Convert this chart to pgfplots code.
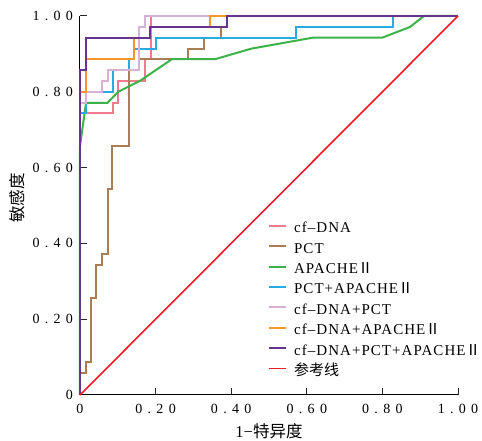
\documentclass[border=0pt]{standalone}
\usepackage{fontspec}
\setmainfont{Liberation Serif}
\newfontfamily\cjk{Noto Sans CJK SC}
\newfontfamily\tickfont{Liberation Serif}[LetterSpace=38]
\newfontfamily\legfont{Liberation Serif}[LetterSpace=7]
\usepackage{pgfplots}
\pgfplotsset{compat=1.18}

\definecolor{cpink}{RGB}{242,122,140}
\definecolor{cbrown}{RGB}{170,125,85}
\definecolor{cgreen}{RGB}{60,178,72}
\definecolor{ccyan}{RGB}{40,170,226}
\definecolor{clav}{RGB}{216,176,212}
\definecolor{corange}{RGB}{246,150,42}
\definecolor{cpurple}{RGB}{102,52,140}
\definecolor{cred}{RGB}{236,28,36}

\newcommand\rii{{\cjk Ⅱ}}

\begin{document}
\begin{tikzpicture}
\begin{axis}[
    scale only axis,
    width=378pt, height=379pt,
    xmin=0, xmax=1, ymin=0, ymax=1,
    axis x line*=bottom, axis y line*=left,
    axis line style={line width=1pt, black},
    tick align=inside,
    major tick length=7pt,
    tick style={line width=1pt, black!85},
    xtick={0,0.2,0.4,0.6,0.8,1},
    ytick={0,0.2,0.4,0.6,0.8,1},
    xticklabels={0,0.20,0.40,0.60,0.80,1.00},
    yticklabels={0,0.20,0.40,0.60,0.80,1.00},
    ticklabel style={font=\fontsize{14}{16}\tickfont},
    xticklabel style={yshift=-6pt},
    yticklabel style={xshift=-3.5pt},
    xlabel={1−{\cjk 特异度}},
    ylabel={{\cjk 敏感度}},
    label style={font=\fontsize{16.5}{18}\selectfont},
    xlabel style={at={(axis description cs:0.5,-0.095)}, anchor=center},
    ylabel style={at={(axis description cs:-0.167,0.52)}, anchor=center},
    clip=false,
    legend style={draw=none, fill=none, at={(axis cs:0.497,0.455)}, anchor=north west,
        font=\fontsize{15}{17}\legfont, row sep=7.4pt, column sep=7pt, inner sep=0pt,
        nodes={inner sep=0pt, text height=10pt, text depth=3pt}},
    legend cell align=left,
    legend image code/.code={\draw[#1] (0pt,3.5pt) -- (17pt,3.5pt);},
    every axis plot/.append style={line width=2pt},
]
\coordinate (bl) at (rel axis cs:0,0);
\coordinate (tr) at (rel axis cs:1,1);

% cf-DNA
\addplot[cpink] coordinates {
    (0,0) (0,0.743) (0.086,0.743) (0.086,0.771) (0.101,0.771) (0.101,0.829)
    (0.172,0.829) (0.172,0.886) (0.187,0.886) (0.187,1) (1,1)
};
\addlegendentry{cf–DNA}

% PCT
\addplot[cbrown] coordinates {
    (0,0) (0,0.057) (0.016,0.057) (0.016,0.086) (0.029,0.086) (0.029,0.257)
    (0.042,0.257) (0.042,0.343) (0.058,0.343) (0.058,0.371) (0.073,0.371)
    (0.073,0.543) (0.085,0.543) (0.085,0.657) (0.130,0.657) (0.130,0.857)
    (0.156,0.857) (0.156,0.886) (0.287,0.886) (0.287,0.914) (0.329,0.914)
    (0.329,0.943) (0.372,0.943) (0.372,0.971) (0.388,0.971) (0.388,1) (1,1)
};
\addlegendentry{PCT}

% APACHE II
\addplot[cgreen] coordinates {
    (0,0) (0,0.657) (0.016,0.771) (0.073,0.771) (0.101,0.800) (0.159,0.829)
    (0.243,0.886) (0.357,0.886) (0.454,0.914) (0.617,0.943) (0.800,0.943)
    (0.873,0.971) (0.910,1) (1,1)
};
\addlegendentry{APACHE\rii}

% PCT+APACHE II
\addplot[ccyan] coordinates {
    (0,0) (0,0.743) (0.016,0.743) (0.016,0.800) (0.086,0.800) (0.086,0.857)
    (0.130,0.857) (0.130,0.886) (0.144,0.886) (0.144,0.914) (0.200,0.914)
    (0.200,0.943) (0.571,0.943) (0.571,0.971) (0.829,0.971) (0.829,1) (1,1)
};
\addlegendentry{PCT+APACHE\rii}

% cf-DNA+PCT
\addplot[clav] coordinates {
    (0,0) (0,0.771) (0.016,0.771) (0.016,0.800) (0.057,0.800) (0.057,0.829)
    (0.073,0.829) (0.073,0.857) (0.155,0.857) (0.155,0.971) (0.172,0.971)
    (0.172,1) (1,1)
};
\addlegendentry{cf–DNA+PCT}

% cf-DNA+APACHE II
\addplot[corange] coordinates {
    (0,0) (0,0.800) (0.016,0.800) (0.016,0.886) (0.144,0.886) (0.144,0.943)
    (0.185,0.943) (0.185,0.971) (0.344,0.971) (0.344,1) (1,1)
};
\addlegendentry{cf–DNA+APACHE\rii}

% cf-DNA+PCT+APACHE II
\addplot[cpurple] coordinates {
    (0,0) (0,0.857) (0.016,0.857) (0.016,0.943) (0.185,0.943) (0.185,0.971)
    (0.388,0.971) (0.388,1) (1,1)
};
\addlegendentry{cf–DNA+PCT+APACHE\rii}

% reference line
\addplot[cred, line width=1.6pt] coordinates {(0,0) (1,1)};
\addlegendentry{{\cjk 参考线}}

\end{axis}
\pgfresetboundingbox
\useasboundingbox ([shift={(-80pt,-46pt)}]bl) rectangle ([shift={(24pt,16pt)}]tr);
\end{tikzpicture}
\end{document}
